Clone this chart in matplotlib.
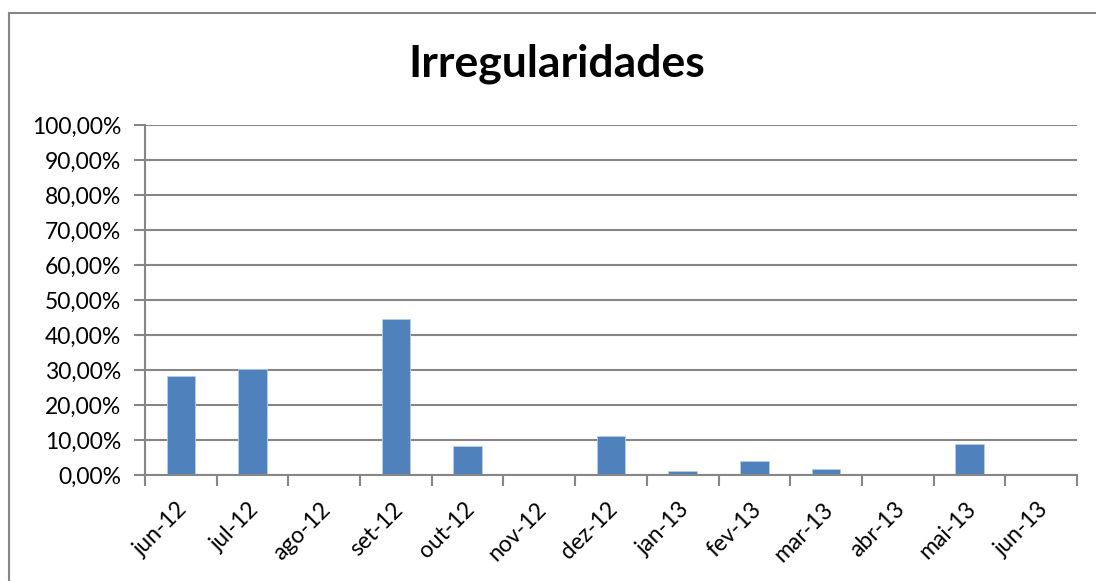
import matplotlib
matplotlib.use("Agg")
import matplotlib.pyplot as plt
from matplotlib.lines import Line2D
import matplotlib.transforms as mtransforms
import numpy as np

categories = ["jun-12", "jul-12", "ago-12", "set-12", "out-12", "nov-12", "dez-12",
              "jan-13", "fev-13", "mar-13", "abr-13", "mai-13", "jun-13"]
values = [28.2, 30.2, 0.0, 44.6, 8.3, 0.0, 11.1, 1.2, 4.1, 1.6, 0.0, 9.0, 0.0]
yticks = [0, 10, 20, 30, 40, 50, 60, 70, 80, 90, 100]
ytick_labels = ["0,00%", "10,00%", "20,00%", "30,00%", "40,00%", "50,00%",
                "60,00%", "70,00%", "80,00%", "90,00%", "100,00%"]
title = "Irregularidades"

plt.rcParams['font.family'] = ['Lato', 'DejaVu Sans']

W, H = 1096, 581
fig = plt.figure(figsize=(W / 100, H / 100), dpi=100)
ax = fig.add_axes([145 / W, 1 - 475 / H, (1077 - 145) / W, (475 - 125) / H])

grid_color = "#868686"
x = np.arange(len(categories))
ax.bar(x, values, width=0.4, color="#4F81BD", edgecolor="#B9CDE5", linewidth=0.6, zorder=3)

ax.set_xlim(-0.5, len(categories) - 0.5)
ax.set_ylim(0, 100)
ax.set_yticks(yticks)
ax.set_yticklabels(ytick_labels, fontsize=16.5, color="#000000")
ax.yaxis.grid(True, color=grid_color, linewidth=1.5, zorder=0)

ax.set_xticks(np.arange(-0.5, len(categories), 1.0))
ax.set_xticklabels([])
ax.set_xticks(x, minor=True)
ax.set_xticklabels(categories, minor=True, rotation=45, ha='right', va='top',
                   rotation_mode='anchor', fontsize=16.5)
ax.tick_params(axis='x', which='minor', length=0, pad=17)
ax.tick_params(axis='x', which='major', length=8, width=1.5, color=grid_color, direction='out')
ax.tick_params(axis='y', length=8, width=1.5, color=grid_color, direction='out', pad=9)

offset = mtransforms.ScaledTranslation(-4 / 100, 0, fig.dpi_scale_trans)
for lbl in ax.get_xticklabels(minor=True):
    lbl.set_transform(lbl.get_transform() + offset)

for s in ['top', 'right']:
    ax.spines[s].set_visible(False)
for s in ['left', 'bottom']:
    ax.spines[s].set_color(grid_color)
    ax.spines[s].set_linewidth(1.5)
    ax.spines[s].set_zorder(4)

fig.text(556.5 / W, 1 - 77 / H, title, ha='center', va='baseline',
         fontsize=32, fontweight='bold')

# chart frame (left and top edges)
fig.add_artist(Line2D([9 / W, 9 / W], [0, 1 - 12.5 / H], transform=fig.transFigure,
                      color="#868686", linewidth=1.5))
fig.add_artist(Line2D([9 / W, 1], [1 - 12.5 / H, 1 - 12.5 / H], transform=fig.transFigure,
                      color="#868686", linewidth=1.5))

fig.savefig("out.png", dpi=100, facecolor="white")
